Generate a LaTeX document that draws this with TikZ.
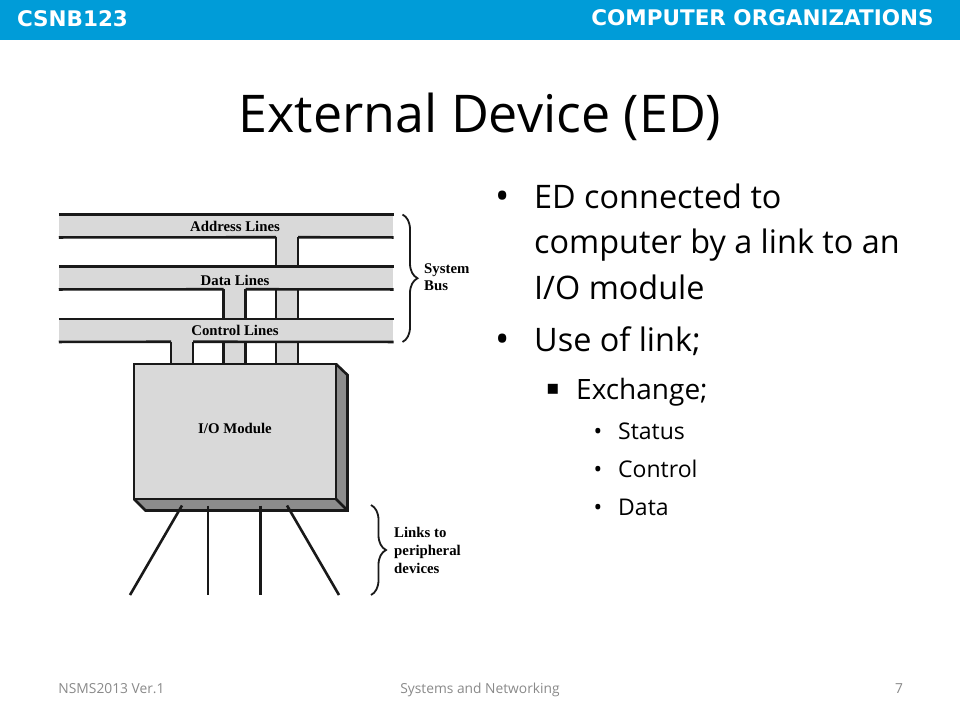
\documentclass[tikz,border=0pt]{standalone}
\usepackage{fontspec}
\setmainfont{Open Sans}
\newfontfamily\headfont{DejaVu Sans}
\newfontfamily\figfont{Liberation Serif}
\usepackage{tikz}
\usetikzlibrary{decorations,decorations.pathreplacing}
\definecolor{headblue}{RGB}{0,156,216}
\definecolor{partgray}{RGB}{217,217,217}
\definecolor{sidegray}{RGB}{140,140,140}
\definecolor{footgray}{RGB}{137,137,137}
\tikzstyle{headtext}=[text=white, inner sep=0, anchor=base, font=\headfont\bfseries\fontsize{21.5}{24}\selectfont]
\tikzstyle{foottext}=[text=footgray, inner sep=0, anchor=base, font=\fontsize{13.8}{18}\selectfont]
\tikzstyle{level1}=[inner sep=0, anchor=north west, align=left, font=\fontsize{32.4}{45.5}\selectfont]
\tikzstyle{level2}=[inner sep=0, anchor=base west, font=\fontsize{28}{32}\selectfont]
\tikzstyle{level3}=[inner sep=0, anchor=base west, font=\fontsize{23}{28}\selectfont]
\tikzstyle{figtext}=[inner sep=0, font=\figfont\bfseries\fontsize{14.8}{18}\selectfont]
\tikzstyle{busbar}=[fill=partgray, inner sep=0, minimum width=334.5pt, minimum height=22.5pt]
\tikzstyle{wire}=[line width=2.6pt, black!90]
\tikzstyle{curly}=[line width=1.8pt, black!90, decorate, decoration={brace, amplitude=15pt}]
\begin{document}
\begin{tikzpicture}[x=1pt, y=-1pt]
\useasboundingbox (0,0) rectangle (960,720);
\fill[headblue] (0,0) rectangle (960,40);
\node[headtext] (course) at (72.5,27) {CSNB123};
\node[headtext] (subject) at (762.5,25) {COMPUTER ORGANIZATIONS};
\node[inner sep=0, anchor=base, font=\fontsize{52}{62}\selectfont] (title) at (480,132) {External Device (ED)};
% module
\coordinate (ioNW) at (134,364);
\coordinate (ioNE) at (336,364);
\coordinate (ioSE) at (336,499);
\coordinate (ioSW) at (134,499);
\coordinate (ioNEb) at (347.5,375);
\coordinate (ioSEb) at (347.5,510.5);
\coordinate (ioSWb) at (145.5,510.5);
\fill[sidegray] (ioNE) -- (ioNEb) -- (ioSEb) -- (ioSWb) -- (ioSW) -- (ioSE) -- cycle;
\node[fill=partgray, inner sep=0, minimum width=202pt, minimum height=135pt] (io) at (235,431.5) {};
\node[figtext] (iotext) at (235,428.5) {I/O Module};
% stems
\foreach \x/\y in {182/340, 234.5/287, 287/235} {
	\fill[partgray] (\x-11,\y) rectangle (\x+11,364);
	\draw[wire] (\x-11,\y) -- (\x-11,364);
	\draw[wire] (\x+11,\y) -- (\x+11,364);
}
% bus
\foreach \n/\y/\a/\b in {addr/226/276/298, data/278/223.5/245.5, ctrl/330.5/171/193} {
	\node[busbar] (\n) at (226.2,\y) {};
	\draw[wire] (\n.north west) -- (\n.north east);
	\draw[wire] (\n.south west) -- (\a,\y+11.25);
	\draw[wire] (\b,\y+11.25) -- (\n.south east);
}
\node[figtext] (addrtext) at (235,226.5) {Address Lines};
\node[figtext] (datatext) at (235,280) {Data Lines};
\node[figtext] (ctrltext) at (235,330.5) {Control Lines};
\draw[wire] (ioNW) -- (ioNE) -- (ioSE) -- (ioSW) -- cycle;
\draw[wire] (ioNE) -- (ioNEb) -- (ioSEb) -- (ioSWb) -- (ioSW);
\draw[wire] (ioSE) -- (ioSEb);
% links
\foreach \n/\a/\b in {1/182/130, 2/208/208, 3/260.5/260.5, 4/287/339} {
	\coordinate (top\n) at (\a,505.5);
	\coordinate (end\n) at (\b,595);
	\draw[wire] (top\n) -- (end\n);
}
% braces
\coordinate (busA) at (402.5,214.5);
\coordinate (busB) at (402.5,342);
\coordinate (linkA) at (371,505);
\coordinate (linkB) at (371,595);
\draw[curly] (busA) -- (busB);
\draw[curly] (linkA) -- (linkB);
\node[figtext, anchor=base west] (sysbus1) at (424,273) {System};
\node[figtext, anchor=base west] (sysbus2) at (424,290) {Bus};
\node[figtext, anchor=base west] (links1) at (394,537) {Links to};
\node[figtext, anchor=base west] (links2) at (394,555) {peripheral};
\node[figtext, anchor=base west] (links3) at (394,573) {devices};
% text
\node[level1, anchor=base, font=\fontsize{38}{45}\selectfont] (b1) at (503,209) {•};
\node[level1] (t1) at (534,183.5) {ED connected to\\computer by a link to an\\I/O module};
\node[level1, anchor=base, font=\fontsize{38}{45}\selectfont] (b2) at (503,352) {•};
\node[level1, anchor=base west] (t2) at (534,351.5) {Use of link;};
\node[level2, anchor=base, font=\headfont\fontsize{20}{24}\selectfont] (b3) at (553,394) {▪};
\node[level2] (t3) at (576,399) {Exchange;};
\foreach \n/\y/\s in {4/439/Status, 5/477/Control, 6/515/Data} {
	\node[level3, anchor=base] (b\n) at (598,\y) {•};
	\node[level3] (t\n) at (618,\y) {\s};
}
% footer
\node[foottext] (foot1) at (111.5,693) {NSMS2013 Ver.1};
\node[foottext] (foot2) at (480,693) {Systems and Networking};
\node[foottext] (foot3) at (899,693) {7};
\end{tikzpicture}
\end{document}
